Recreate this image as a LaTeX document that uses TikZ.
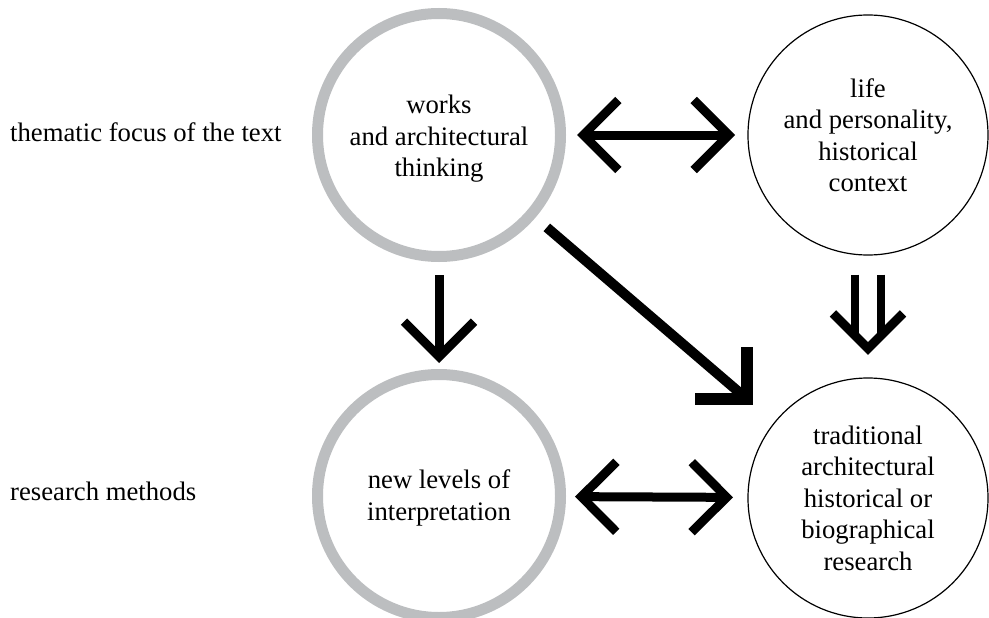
\documentclass[tikz,border=0pt]{standalone}
\usepackage{fontspec}
\setmainfont{Liberation Serif}
\usetikzlibrary{arrows.meta,calc}
\definecolor{ringgray}{RGB}{188,190,192}
\newcommand\dgtxt{\fontsize{26.7pt}{31.5pt}\selectfont}
\tikzset{
  chev/.tip={Straight Barb[length=35pt,width=70pt]},
  ringnode/.style={circle, draw=ringgray, line width=11pt, minimum size=243pt, inner sep=0pt},
  blacknode/.style={circle, draw=black, line width=1.2pt, minimum size=240pt, inner sep=0pt, align=center, font=\dgtxt},
  circtext/.style={align=center, font=\dgtxt, inner sep=0pt},
  sidelabel/.style={anchor=base west, inner sep=0pt, font=\dgtxt},
  bothway/.style={line width=9pt, chev-chev},
  oneway/.style={line width=9pt, -chev},
}
\begin{document}
\begin{tikzpicture}[x=1pt,y=-1pt]
\useasboundingbox (0,0) rectangle (989,618);
\clip (0,0) rectangle (989,618);
\fill[white] (0,0) rectangle (989,618);
\node[ringnode, label={[circtext, yshift=-4pt]center:works\\and architectural\\thinking}] (A) at (439,135) {};
\node[blacknode] (B) at (868,135) {life\\and personality,\\historical\\context};
\node[ringnode, label={[circtext, yshift=-2pt]center:new levels of\\interpretation}] (C) at (439,496) {};
\node[blacknode] (D) at (868,498) {traditional\\architectural\\historical or\\biographical\\research};
\node[sidelabel] (t1) at (10,142) {thematic focus of the text};
\node[sidelabel] (t2) at (10,500) {research methods};
% horizontal double arrows
\draw[bothway, shorten <=11pt, shorten >=12.4pt] (A) -- (B);
\draw[bothway, shorten <=9pt, shorten >=14.4pt] (C) -- (D);
% vertical arrow
\draw[oneway, shorten <=13pt, shorten >=6pt] (A) -- (C);
% diagonal arrow with square corner head
\coordinate (dc) at (747,399);
\draw[line width=10pt] ($(A)!142pt!(dc)$) -- (dc);
\draw[line width=12pt, line join=miter] ($(dc)+(-52,0)$) -- (dc) -- ($(dc)+(0,-52)$);
% double-shaft arrow
\draw[line width=8pt] ($(B.south)+(-13,19)$) -- ($(D.north)+(-13,-42)$);
\draw[line width=8pt] ($(B.south)+(13,19)$) -- ($(D.north)+(13,-42)$);
\draw[line width=9pt, line join=miter] ($(D.north)+(-35,-64)$) -- ($(D.north)+(0,-29)$) -- ($(D.north)+(35,-64)$);
\end{tikzpicture}
\end{document}
